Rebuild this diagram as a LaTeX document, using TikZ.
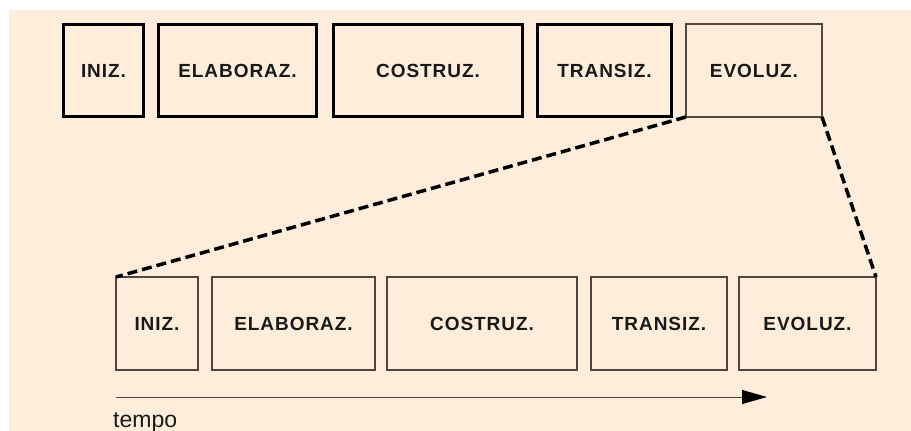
\documentclass[tikz,border=0pt]{standalone}
\usepackage{fontspec}
\setmainfont{Liberation Sans}
\newfontfamily\labfont[LetterSpace=5]{Liberation Sans}
\usetikzlibrary{arrows.meta}
\definecolor{peach}{RGB}{255,237,219}
\definecolor{thingray}{RGB}{80,72,64}
\tikzset{
  x=1pt, y=-1pt,
  phase/.style={draw, rectangle, inner sep=0pt, outer sep=0pt,
    font=\labfont\bfseries\fontsize{19}{21}\selectfont, text=black!90},
  thick phase/.style={phase, draw=black, line width=3pt},
  thin phase/.style={phase, draw=thingray, line width=1.1pt},
  zoomline/.style={draw=black, line width=3.5pt, dash pattern=on 10pt off 5pt},
  timeaxis/.style={draw=thingray, line width=1pt, -{Triangle[length=25pt,width=14pt,color=black,fill=black]}},
}
\begin{document}
\begin{tikzpicture}
\useasboundingbox (0,0) rectangle (911,431);
\fill[white] (0,0) rectangle (911,431);
\fill[peach] (9,10) rectangle (911,431);
% top row
\node[thick phase, minimum width=80pt, minimum height=92pt] (ti) at (103.5,70.5) {INIZ.};
\node[thick phase, minimum width=158pt, minimum height=92pt] (te) at (237.5,70.5) {ELABORAZ.};
\node[thick phase, minimum width=189pt, minimum height=92pt] (tc) at (428,70.5) {COSTRUZ.};
\node[thick phase, minimum width=134pt, minimum height=92pt] (tt) at (604.5,70.5) {TRANSIZ.};
\node[thin phase, minimum width=136pt, minimum height=93pt] (tv) at (754,70.5) {EVOLUZ.};
% bottom row
\node[thin phase, minimum width=82pt, minimum height=93pt] (bi) at (157,323.5) {INIZ.};
\node[thin phase, minimum width=163pt, minimum height=93pt] (be) at (293.5,323.5) {ELABORAZ.};
\node[thin phase, minimum width=190pt, minimum height=93pt] (bc) at (482,323.5) {COSTRUZ.};
\node[thin phase, minimum width=136pt, minimum height=93pt] (bt) at (659,323.5) {TRANSIZ.};
\node[thin phase, minimum width=137pt, minimum height=93pt] (bv) at (807.5,323.5) {EVOLUZ.};
% zoom lines
\draw[zoomline] (tv.south west) -- (bi.north west);
\draw[zoomline] (tv.south east) -- (bv.north east);
% time axis
\coordinate (t0) at (116,397);
\coordinate (t1) at (767,397);
\draw[timeaxis] (t0) -- (t1);
\node[anchor=base west, inner sep=0pt, font=\fontsize{23}{25}\selectfont, text=black!90] (tempo) at (113,427) {tempo};
\end{tikzpicture}
\end{document}
